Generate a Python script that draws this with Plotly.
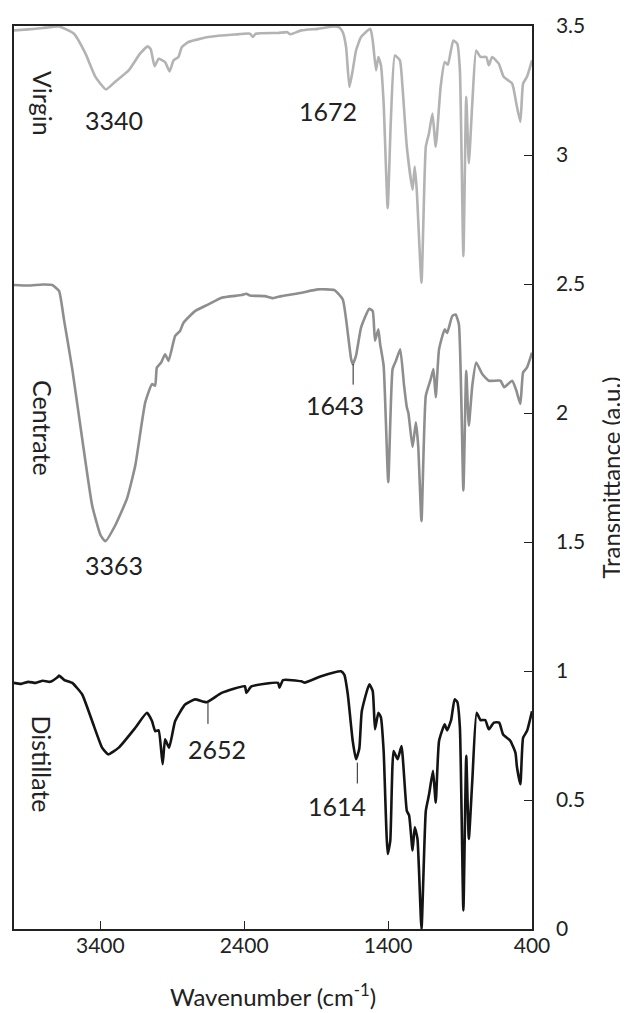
import plotly.graph_objects as go

# ---------------- data ----------------
virgin_wn = [4000, 3900, 3800, 3687, 3583, 3503, 3434, 3360, 3297, 3203, 3124, 3071, 3050, 3023, 2995,
             2950, 2919, 2891, 2857, 2834, 2788, 2649, 2467, 2360, 2340, 2320, 2165, 2100, 2080, 2003,
             1888, 1775, 1740, 1715, 1692, 1669, 1646, 1623, 1588, 1524, 1507, 1484, 1468, 1450, 1431,
             1403, 1381, 1353, 1318, 1300, 1270, 1230, 1215, 1201, 1168, 1138, 1116, 1092, 1069, 1035,
             1007, 985, 947, 919, 901, 877, 857, 839, 815, 788, 758, 718, 700, 677, 631,
             597, 538, 509, 481, 462, 435, 400]
virgin_t = [3.483, 3.487, 3.492, 3.498, 3.470, 3.393, 3.303, 3.254, 3.284, 3.328, 3.393, 3.421, 3.41, 3.344, 3.373,
            3.36, 3.324, 3.367, 3.38, 3.418, 3.438, 3.457, 3.467, 3.47, 3.458, 3.47, 3.473, 3.476, 3.468, 3.483,
            3.489, 3.498, 3.495, 3.476, 3.418, 3.264, 3.328, 3.405, 3.457, 3.489, 3.444, 3.328, 3.38, 3.348, 3.20,
            2.794, 3.135, 3.386, 3.367, 3.264, 3.032, 2.865, 2.955, 2.865, 2.505, 3.032, 3.084, 3.161, 3.032, 3.264,
            3.36, 3.35, 3.444, 3.431, 3.328, 2.608, 3.226, 2.968, 3.20, 3.405, 3.38, 3.38, 3.348, 3.38, 3.354,
            3.303, 3.277, 3.20, 3.129, 3.277, 3.303, 3.367]

centrate_wn = [4000, 3900, 3800, 3734, 3687, 3653, 3595, 3526, 3457, 3399, 3365, 3296, 3215, 3157, 3088,
               3041, 3019, 3007, 2977, 2950, 2926, 2880, 2846, 2822, 2742, 2649, 2557, 2419, 2385, 2360,
               2257, 2200, 2142, 2003, 1888, 1773, 1715, 1692, 1657, 1646, 1623, 1588, 1531, 1507, 1491,
               1468, 1455, 1431, 1399, 1369, 1346, 1316, 1289, 1270, 1259, 1230, 1207, 1191, 1168, 1138,
               1104, 1085, 1069, 1046, 1007, 990, 954, 931, 908, 877, 857, 839, 815, 788, 746,
               700, 619, 593, 538, 509, 481, 462, 435, 400]
centrate_t = [2.496, 2.494, 2.498, 2.496, 2.473, 2.363, 2.170, 1.90, 1.642, 1.527, 1.503, 1.565, 1.668, 1.797, 2.041,
              2.112, 2.106, 2.176, 2.196, 2.228, 2.202, 2.299, 2.318, 2.350, 2.395, 2.421, 2.447, 2.457, 2.462, 2.455,
              2.453, 2.445, 2.453, 2.466, 2.479, 2.476, 2.44, 2.363, 2.209, 2.189, 2.222, 2.331, 2.404, 2.395, 2.28,
              2.324, 2.266, 2.183, 1.732, 2.170, 2.202, 2.247, 2.106, 2.022, 2.0, 1.868, 1.964, 1.874, 1.581, 2.067,
              2.131, 2.170, 2.061, 2.247, 2.324, 2.31, 2.376, 2.382, 2.344, 1.70, 2.164, 1.951, 2.106, 2.196, 2.151,
              2.125, 2.125, 2.1, 2.125, 2.087, 2.035, 2.157, 2.176, 2.234]

distillate_wn = [4000, 3950, 3900, 3849, 3800, 3750, 3700, 3687, 3650, 3595, 3526, 3457, 3388, 3346, 3272,
                 3157, 3076, 3041, 3019, 2995, 2967, 2950, 2922, 2880, 2811, 2742, 2661, 2557, 2396, 2385,
                 2350, 2165, 2155, 2130, 2003, 1980, 1865, 1727, 1704, 1680, 1646, 1623, 1600, 1583, 1531,
                 1507, 1491, 1468, 1450, 1431, 1403, 1385, 1362, 1334, 1307, 1270, 1254, 1230, 1215, 1196,
                 1168, 1138, 1116, 1088, 1069, 1046, 1007, 990, 962, 938, 919, 901, 877, 857, 839,
                 815, 785, 758, 725, 700, 665, 628, 601, 551, 515, 505, 481, 462, 435, 400]
distillate_t = [0.954, 0.950, 0.958, 0.954, 0.962, 0.958, 0.975, 0.982, 0.965, 0.954, 0.909, 0.806, 0.703, 0.677, 0.703,
                0.780, 0.838, 0.806, 0.767, 0.77, 0.639, 0.735, 0.703, 0.806, 0.870, 0.89, 0.879, 0.915, 0.941, 0.915,
                0.94, 0.954, 0.935, 0.965, 0.96, 0.955, 0.980, 0.999, 0.985, 0.909, 0.729, 0.658, 0.70, 0.844, 0.948,
                0.922, 0.774, 0.838, 0.82, 0.690, 0.291, 0.342, 0.690, 0.658, 0.709, 0.458, 0.44, 0.304, 0.394, 0.35,
                0.0, 0.458, 0.52, 0.613, 0.490, 0.729, 0.793, 0.77, 0.81, 0.89, 0.88, 0.780, 0.072, 0.671, 0.349,
                0.574, 0.838, 0.81, 0.81, 0.774, 0.80, 0.80, 0.754, 0.73, 0.683, 0.63, 0.561, 0.741, 0.767, 0.844]

sample_names = ["Virgin", "Centrate", "Distillate"]
sample_label_y = [3.2, 1.94, 0.64]

peak_labels = ["3340", "1672", "3363", "1643", "2652", "1614"]
peak_label_x = [3304, 1817, 3304, 1768, 2591, 1754]
peak_label_y = [3.134, 3.172, 1.412, 2.030, 0.698, 0.478]

leader_wn = [1643, 2652, 1614]
leader_top = [2.19, 0.884, 0.645]
leader_bottom = [2.11, 0.795, 0.564]

x_ticks = [3400, 2400, 1400, 400]
y_ticks = [0, 0.5, 1, 1.5, 2, 2.5, 3, 3.5]

# ---------------- figure ----------------
FONT = "Lato"
fig = go.Figure()
series = [
    (virgin_wn, virgin_t, "#b3b3b3", "Virgin"),
    (centrate_wn, centrate_t, "#8e8e8e", "Centrate"),
    (distillate_wn, distillate_t, "#141414", "Distillate"),
]
for wn, t, col, name in series:
    fig.add_trace(go.Scatter(x=wn, y=t, mode="lines", name=name,
                             line=dict(color=col, width=2.6, shape="spline", smoothing=0.45),
                             hoverinfo="skip"))

for name, yv in zip(sample_names, sample_label_y):
    fig.add_annotation(x=3802, y=yv, xref="x", yref="y", text=name, showarrow=False,
                       textangle=90, font=dict(family=FONT, size=25, color="#222"))

for txt, xv, yv in zip(peak_labels, peak_label_x, peak_label_y):
    fig.add_annotation(x=xv, y=yv, xref="x", yref="y", text=txt, showarrow=False,
                       font=dict(family=FONT, size=25, color="#222"))

for wn, y0, y1 in zip(leader_wn, leader_top, leader_bottom):
    fig.add_shape(type="line", xref="x", yref="y", x0=wn, x1=wn, y0=y0, y1=y1,
                  line=dict(color="#222", width=1))

fig.update_layout(
    width=628, height=1013,
    margin=dict(l=4, r=104, t=14, b=92),
    paper_bgcolor="white", plot_bgcolor="white",
    showlegend=False,
    font=dict(family=FONT, color="#222"),
)
fig.update_xaxes(
    range=[4000, 400], tickvals=x_ticks, ticks="inside", ticklen=8, tickwidth=1.2,
    tickcolor="#222", showline=True, linecolor="#222", linewidth=1.5, mirror=True,
    showgrid=False, zeroline=False, tickfont=dict(family=FONT, size=21, color="#222"),
    ticklabelstandoff=-3,
    title=dict(text="Wavenumber (cm<sup>-1</sup>)", font=dict(family=FONT, size=24, color="#222"),
               standoff=33),
)
fig.update_yaxes(
    range=[0, 3.5], tickvals=y_ticks, side="right", ticks="inside", ticklen=8, tickwidth=1.2,
    tickcolor="#222", showline=True, linecolor="#222", linewidth=1.5, mirror=True,
    showgrid=False, zeroline=False, tickfont=dict(family=FONT, size=21, color="#222"),
    ticklabelstandoff=18,
    title=dict(text="Transmittance (a.u.)", font=dict(family=FONT, size=24, color="#222"),
               standoff=19),
)

fig.write_html("out.html")
